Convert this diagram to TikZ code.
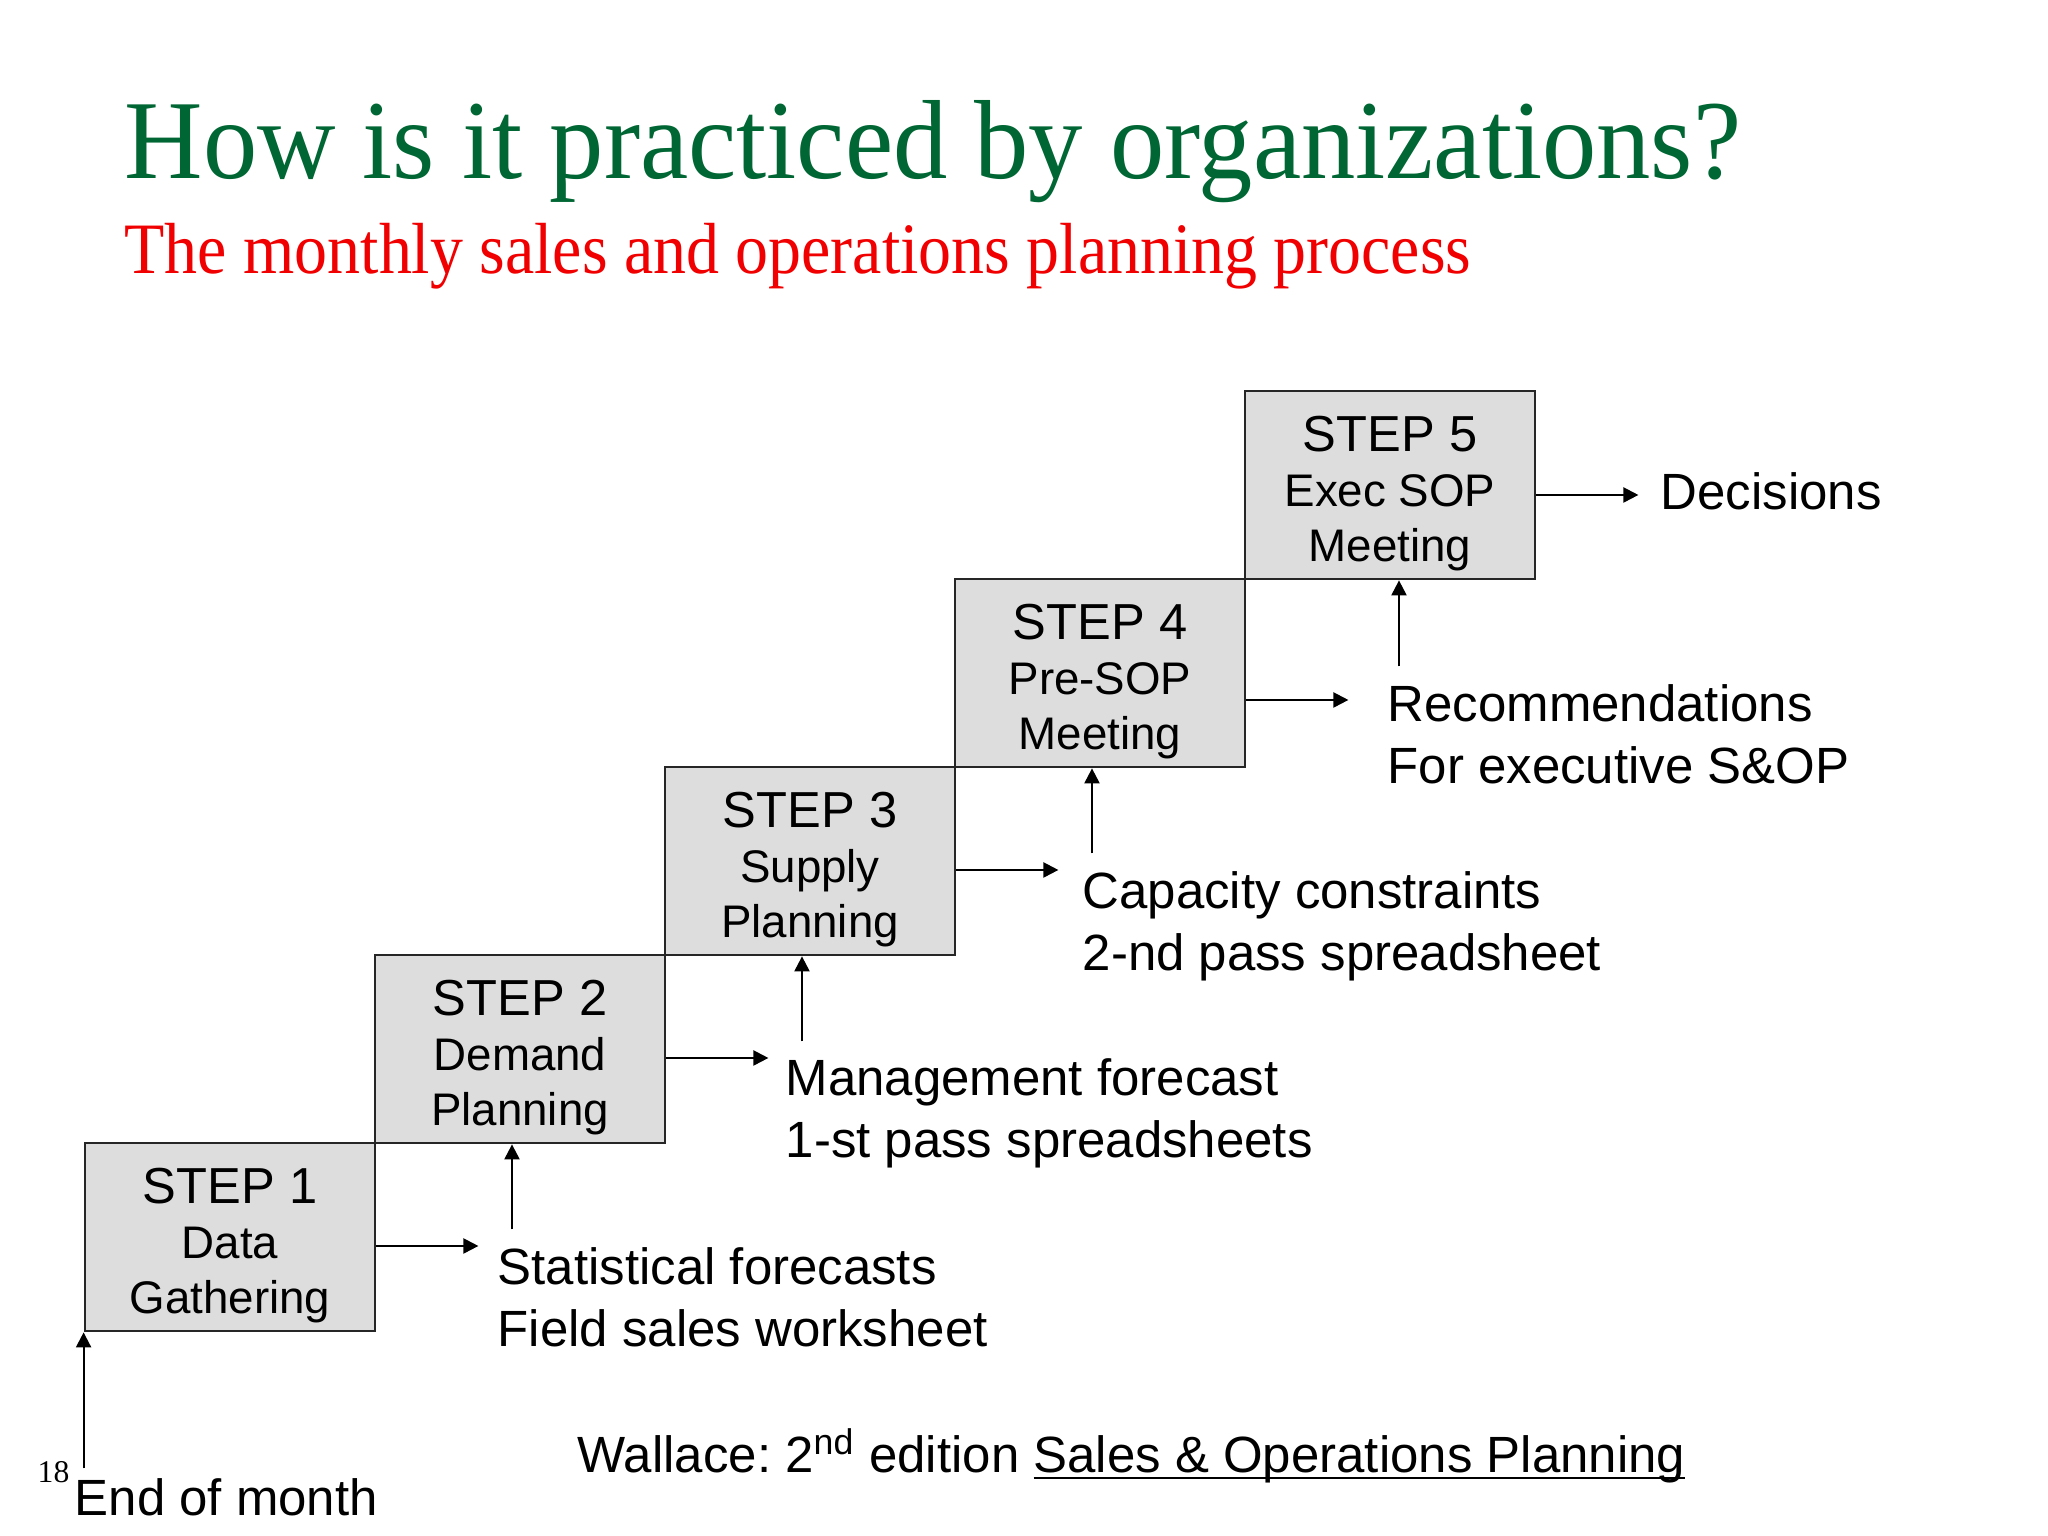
\documentclass[tikz,border=0pt]{standalone}
\usepackage{fontspec}
\setmainfont{Liberation Sans}
\newfontfamily\titlefont[FakeStretch=0.965]{Liberation Serif}
\newfontfamily\subtitlefont[FakeStretch=0.91]{Liberation Serif}
\newfontfamily\pagefont{Liberation Serif}
\usetikzlibrary{arrows.meta}
\frenchspacing

\definecolor{titlegreen}{RGB}{0,102,51}
\definecolor{subred}{RGB}{240,0,0}
\definecolor{boxfill}{RGB}{221,221,221}

\newcommand{\stephead}[1]{{\fontsize{14.4}{15.6}\selectfont\rule{0pt}{14.8pt}STEP #1}}

\begin{document}
\begin{tikzpicture}[
		stepbox/.style={rectangle, draw=black!85, line width=0.8pt, fill=boxfill,
			minimum width=2.9cm, minimum height=1.88cm, inner sep=0pt,
			align=center, font=\fontsize{13}{15.6}\selectfont},
		lbl/.style={anchor=north west, inner sep=0pt, align=left,
			font=\fontsize{14.5}{17.5}\selectfont},
		arr/.style={line width=0.6pt, -{Triangle[length=0.15cm, width=0.15cm]}}
	]
  \useasboundingbox (0cm, 0cm) rectangle (20.48cm, 15.36cm);
  % headings
  \node (title) [anchor=base west, inner sep=0pt, text=titlegreen,
    font=\titlefont\fontsize{32}{36}\selectfont] at (1.24cm, 13.57cm) {How is it practiced by organizations?};
  \node (subtitle) [anchor=base west, inner sep=0pt, text=subred,
    font=\subtitlefont\fontsize{20.6}{24}\selectfont] at (1.24cm, 12.62cm) {The monthly sales and operations planning process};
  % the five steps
  \node (step_1) [stepbox] at (2.30cm, 2.99cm) {\stephead{1}\\Data\\Gathering};
  \node (step_2) [stepbox] at (5.20cm, 4.87cm) {\stephead{2}\\Demand\\Planning};
  \node (step_3) [stepbox] at (8.10cm, 6.75cm) {\stephead{3}\\Supply\\Planning};
  \node (step_4) [stepbox] at (11.00cm, 8.63cm) {\stephead{4}\\Pre-SOP\\Meeting};
  \node (step_5) [stepbox] at (13.90cm, 10.51cm) {\stephead{5}\\Exec SOP\\Meeting};
  % outputs
  \node (lbl_1) [lbl] at (4.97cm, 2.89cm) {Statistical forecasts\\Field sales worksheet};
  \node (lbl_2) [lbl] at (7.85cm, 4.78cm) {Management forecast\\1-st pass spreadsheets};
  \node (lbl_3) [lbl] at (10.82cm, 6.65cm) {Capacity constraints\\2-nd pass spreadsheet};
  \node (lbl_4) [lbl] at (13.87cm, 8.52cm) {Recommendations\\For executive S\&OP};
  \node (lbl_5) [lbl] at (16.60cm, 10.64cm) {Decisions};
  \node (eom) [lbl] at (0.74cm, 0.58cm) {End of month};
  \node (page_no) [anchor=base west, inner sep=0pt, font=\pagefont\fontsize{9}{10}\selectfont] at (0.37cm, 0.53cm) {18};
  \node (source) [anchor=base west, inner sep=0pt, font=\fontsize{14.5}{17.5}\selectfont] at (5.77cm, 0.63cm)
    {Wallace: 2\textsuperscript{nd} edition \underline{\smash{Sales \& Operations Planning}}};
  % arrow ends
  \coordinate (out_1) at ([shift={(1.02cm,-0.09cm)}]step_1.east);
  \coordinate (out_2) at ([shift={(1.02cm,-0.09cm)}]step_2.east);
  \coordinate (out_3) at ([shift={(1.02cm,-0.09cm)}]step_3.east);
  \coordinate (out_4) at ([shift={(1.02cm,-0.27cm)}]step_4.east);
  \coordinate (out_5) at ([shift={(1.02cm,-0.10cm)}]step_5.east);
  \coordinate (in_1) at ([yshift=-1.36cm]step_1.south west);
  \coordinate (in_2) at ([shift={(-0.08cm,-0.85cm)}]step_2.south);
  \coordinate (in_3) at ([shift={(-0.08cm,-0.85cm)}]step_3.south);
  \coordinate (in_4) at ([shift={(-0.08cm,-0.85cm)}]step_4.south);
  \coordinate (in_5) at ([shift={(0.09cm,-0.86cm)}]step_5.south);
  \draw[arr] (out_1 -| step_1.east) -- (out_1);
  \draw[arr] (out_2 -| step_2.east) -- (out_2);
  \draw[arr] (out_3 -| step_3.east) -- (out_3);
  \draw[arr] (out_4 -| step_4.east) -- (out_4);
  \draw[arr] (out_5 -| step_5.east) -- (out_5);
  \draw[arr] (in_1) -- (in_1 |- step_1.south);
  \draw[arr] (in_2) -- (in_2 |- step_2.south);
  \draw[arr] (in_3) -- (in_3 |- step_3.south);
  \draw[arr] (in_4) -- (in_4 |- step_4.south);
  \draw[arr] (in_5) -- (in_5 |- step_5.south);
\end{tikzpicture}
\end{document}
